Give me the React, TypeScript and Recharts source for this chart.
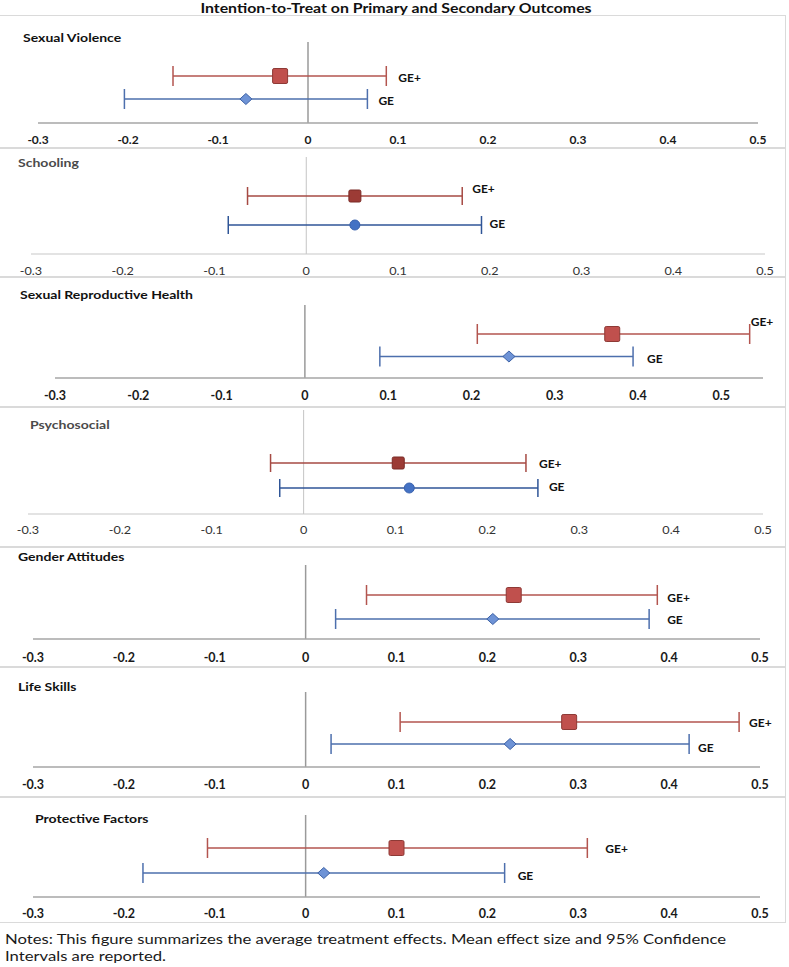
import React from 'react';
import { ScatterChart, Scatter, XAxis, YAxis, ErrorBar, ReferenceLine } from 'recharts';

const TITLE = 'Intention-to-Treat on Primary and Secondary Outcomes';
const OUTCOMES = [
  'Sexual Violence',
  'Schooling',
  'Sexual Reproductive Health',
  'Psychosocial',
  'Gender Attitudes',
  'Life Skills',
  'Protective Factors',
];
const SERIES = ['GE+', 'GE'];
const GEPLUS_MEAN = [-0.031, 0.053, 0.369, 0.103, 0.229, 0.29, 0.1];
const GEPLUS_LOW = [-0.15, -0.064, 0.207, -0.036, 0.067, 0.104, -0.108];
const GEPLUS_HIGH = [0.087, 0.17, 0.534, 0.242, 0.387, 0.477, 0.31];
const GE_MEAN = [-0.069, 0.053, 0.245, 0.115, 0.206, 0.225, 0.02];
const GE_LOW = [-0.204, -0.085, 0.09, -0.026, 0.033, 0.028, -0.179];
const GE_HIGH = [0.066, 0.191, 0.394, 0.255, 0.378, 0.422, 0.219];
const X_TICKS = [-0.3, -0.2, -0.1, 0, 0.1, 0.2, 0.3, 0.4, 0.5];
const X_MIN = [-0.3, -0.3, -0.3, -0.3, -0.3, -0.3, -0.3];
const X_MAX = [0.5, 0.5, 0.55, 0.5, 0.5, 0.5, 0.5];
const NOTES = [
  'Notes: This figure summarizes the average treatment effects. Mean effect size and 95% Confidence',
  'Intervals are reported.',
];

const FONT = 'Lato, "Open Sans", sans-serif';

const LAYOUT = [
  { boxTop: 15, boxBottom: 148, titleX: 23, titleY: 38, plotTop: 42, axisY: 123, rowPlus: 76, rowGE: 99, xLeft: 38, xRight: 758, style: 'bold', lblPlus: [12, 1], lblGE: [11, 1], tickDy: 16, tickFont: 12 },
  { boxTop: 148, boxBottom: 277, titleX: 18, titleY: 163, plotTop: 157, axisY: 254, rowPlus: 196, rowGE: 225, xLeft: 31, xRight: 765, style: 'plain', lblPlus: [10, -8], lblGE: [8, -2], tickDy: 17, tickFont: 11 },
  { boxTop: 277, boxBottom: 407, titleX: 20, titleY: 295, plotTop: 305, axisY: 378, rowPlus: 334, rowGE: 356.5, xLeft: 55, xRight: 763, style: 'bold', lblPlus: [1, -13], lblGE: [14, 2], tickDy: 17, tickFont: 12.5 },
  { boxTop: 407, boxBottom: 547, titleX: 30, titleY: 425, plotTop: 410, axisY: 514, rowPlus: 463, rowGE: 488, xLeft: 28, xRight: 763, style: 'plain', lblPlus: [13, 0], lblGE: [11, -2], tickDy: 16, tickFont: 11 },
  { boxTop: 547, boxBottom: 667, titleX: 18, titleY: 557, plotTop: 565, axisY: 639, rowPlus: 595, rowGE: 619, xLeft: 33, xRight: 760, style: 'bold', lblPlus: [10, 2], lblGE: [18, 0], tickDy: 18, tickFont: 12.5 },
  { boxTop: 667, boxBottom: 797, titleX: 18, titleY: 687, plotTop: 692, axisY: 767, rowPlus: 722, rowGE: 744, xLeft: 33, xRight: 760, style: 'bold', lblPlus: [10, 0], lblGE: [9, 3], tickDy: 17, tickFont: 12.5 },
  { boxTop: 797, boxBottom: 923, titleX: 35, titleY: 819, plotTop: 815, axisY: 897, rowPlus: 848, rowGE: 873, xLeft: 33, xRight: 760, style: 'bold', lblPlus: [18, 0], lblGE: [13, 2], tickDy: 16, tickFont: 12.5 },
];

const STYLES: any = {
  bold: {
    red: '#B3554F', blue: '#4D6FAD', sqFill: '#C0504D', sqStroke: '#8E3A36', sqSize: 15,
    geShape: 'diamond', geFill: '#6E93D6', geStroke: '#3D62A6', geSize: 12, cap: 10,
    axis: '#A6A6A6', axisW: 1.5, zero: '#9A9A9A', zeroW: 1.5,
    tickWeight: 700, tickColor: '#1a1a1a', titleColor: '#111111', tickStretch: 1,
  },
  plain: {
    red: '#A64A43', blue: '#2F5597', sqFill: '#9C3B35', sqStroke: '#7A2B26', sqSize: 12,
    geShape: 'circle', geFill: '#4472C4', geStroke: '#3A62AE', geSize: 10, cap: 9,
    axis: '#C8C8C8', axisW: 1.2, zero: '#C4C4C4', zeroW: 1,
    tickWeight: 400, tickColor: '#333333', titleColor: '#4a4a4a', tickStretch: 1.15,
  },
};

const STRETCH = 1.22;

const fmt = (v: number) => {
  const n = Number(v.toFixed(1));
  return n === 0 ? '0' : String(n);
};

function Panel({ i }: { i: number }) {
  const L = LAYOUT[i];
  const S = STYLES[L.style];
  const k = L.rowGE - L.rowPlus;
  const d0 = 1 - (L.axisY - L.rowGE) / k;
  const d1 = d0 + (L.axisY - L.plotTop) / k;
  const plus = [{ x: GEPLUS_MEAN[i], y: 2, err: [GEPLUS_MEAN[i] - GEPLUS_LOW[i], GEPLUS_HIGH[i] - GEPLUS_MEAN[i]] }];
  const ge = [{ x: GE_MEAN[i], y: 1, err: [GE_MEAN[i] - GE_LOW[i], GE_HIGH[i] - GE_MEAN[i]] }];
  const plusLbl = [{ x: GEPLUS_HIGH[i], y: 2 }];
  const geLbl = [{ x: GE_HIGH[i], y: 1 }];
  const h = L.axisY - L.plotTop + 30;

  const tick = (p: any) => (
    <text
      x={0}
      y={0}
      transform={`translate(${p.x},${p.y + L.tickDy}) scale(${S.tickStretch},1)`}
      textAnchor="middle"
      dominantBaseline="central"
      fontFamily={FONT}
      fontSize={L.tickFont}
      fontWeight={S.tickWeight}
      fill={S.tickColor}
    >
      {fmt(p.payload.value)}
    </text>
  );

  const square = (p: any) => {
    const s = S.sqSize;
    return <rect x={p.cx - s / 2} y={p.cy - s / 2} width={s} height={s} rx={1.5} fill={S.sqFill} stroke={S.sqStroke} strokeWidth={1} />;
  };
  const geMark = (p: any) => {
    const s = S.geSize;
    if (S.geShape === 'circle') {
      return <circle cx={p.cx} cy={p.cy} r={s / 2} fill={S.geFill} stroke={S.geStroke} strokeWidth={1} />;
    }
    const hw = s / 2;
    const hh = s / 2 - 0.5;
    return (
      <polygon
        points={`${p.cx},${p.cy - hh} ${p.cx + hw},${p.cy} ${p.cx},${p.cy + hh} ${p.cx - hw},${p.cy}`}
        fill={S.geFill}
        stroke={S.geStroke}
        strokeWidth={1}
      />
    );
  };
  const label = (txt: string, off: number[]) => (p: any) => (
    <text
      x={p.cx + off[0]}
      y={p.cy + off[1]}
      dominantBaseline="central"
      fontFamily={FONT}
      fontSize={12}
      fontWeight={700}
      fill="#111"
    >
      {txt}
    </text>
  );

  return (
    <>
      <div
        style={{
          position: 'absolute', left: -1, top: L.boxTop, width: 787, height: L.boxBottom - L.boxTop,
          border: '1px solid #DADADA', boxSizing: 'border-box',
        }}
      />
      <div
        style={{
          position: 'absolute', left: L.titleX, top: L.titleY - 7, lineHeight: '14px',
          fontFamily: FONT, fontSize: 11.5, fontWeight: 700, color: S.titleColor, whiteSpace: 'nowrap',
          transform: `scaleX(${STRETCH})`, transformOrigin: 'left center',
        }}
      >
        {OUTCOMES[i]}
      </div>
      <div style={{ position: 'absolute', left: 0, top: L.plotTop }}>
        <ScatterChart width={789} height={h} margin={{ top: 0, right: 789 - L.xRight, bottom: 0, left: L.xLeft }} style={{ overflow: 'visible' }}>
          <XAxis
            type="number"
            dataKey="x"
            domain={[X_MIN[i], X_MAX[i]]}
            ticks={X_TICKS}
            interval={0}
            tickLine={false}
            tickSize={0}
            tickMargin={0}
            height={30}
            axisLine={{ stroke: S.axis, strokeWidth: S.axisW }}
            tick={tick}
          />
          <YAxis type="number" dataKey="y" domain={[d0, d1]} hide />
          <ReferenceLine x={0} stroke={S.zero} strokeWidth={S.zeroW} />
          <Scatter data={plus} shape={square} isAnimationActive={false}>
            <ErrorBar dataKey="err" direction="x" width={S.cap} stroke={S.red} strokeWidth={1.5} isAnimationActive={false} />
          </Scatter>
          <Scatter data={ge} shape={geMark} isAnimationActive={false}>
            <ErrorBar dataKey="err" direction="x" width={S.cap} stroke={S.blue} strokeWidth={1.5} isAnimationActive={false} />
          </Scatter>
          <Scatter data={plusLbl} shape={label(SERIES[0], L.lblPlus)} isAnimationActive={false} />
          <Scatter data={geLbl} shape={label(SERIES[1], L.lblGE)} isAnimationActive={false} />
        </ScatterChart>
      </div>
    </>
  );
}

export default function App() {
  return (
    <div style={{ position: 'absolute', left: 0, top: 0, width: 789, height: 967, background: '#fff', overflow: 'hidden' }}>
      <div
        style={{
          position: 'absolute', left: 0, top: 1, width: 792, textAlign: 'center', lineHeight: '14px',
          fontFamily: FONT, fontSize: 13, fontWeight: 700, color: '#111',
          transform: `scaleX(${STRETCH})`, transformOrigin: '396px center',
        }}
      >
        {TITLE}
      </div>
      {OUTCOMES.map((_, i) => (
        <Panel key={i} i={i} />
      ))}
      {NOTES.map((t, j) => (
        <div
          key={j}
          style={{
            position: 'absolute', left: 5, top: 930 + j * 17, lineHeight: '17px',
            fontFamily: FONT, fontSize: 14, color: '#1a1a1a', whiteSpace: 'nowrap',
            transform: 'scaleX(1.19)', transformOrigin: 'left center',
          }}
        >
          {t}
        </div>
      ))}
    </div>
  );
}
